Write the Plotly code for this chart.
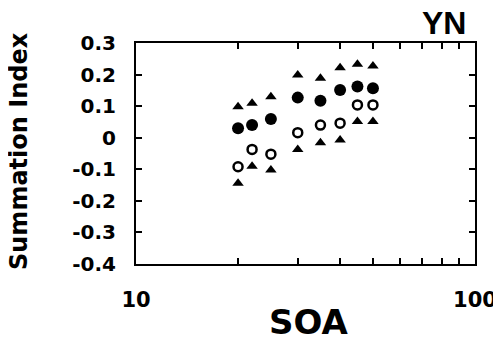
import plotly.graph_objects as go

soa = [20, 22, 25, 30, 35, 40, 45, 50]
filled = [0.030, 0.040, 0.059, 0.127, 0.117, 0.151, 0.162, 0.157]
opened = [-0.092, -0.037, -0.052, 0.016, 0.040, 0.046, 0.104, 0.104]
upper = [0.098, 0.109, 0.130, 0.199, 0.188, 0.222, 0.233, 0.227]
lower = [-0.144, -0.090, -0.102, -0.037, -0.016, -0.007, 0.051, 0.051]

x_tickvals = [10, 20, 30, 40, 50, 60, 70, 80, 90, 100]
x_ticktext = ["10", "", "", "", "", "", "", "", "", "100"]
y_tickvals = [0.3, 0.2, 0.1, 0, -0.1, -0.2, -0.3, -0.4]
y_ticktext = ["0.3", "0.2", "0.1", "0", "-0.1", "-0.2", "-0.3", "-0.4"]

# page body has an 8px default margin, so the figure is 8px smaller
fig = go.Figure()
fig.add_trace(go.Scatter(x=soa, y=upper, mode="markers",
                         marker=dict(symbol="triangle-up", size=10, color="black", line=dict(width=0))))
fig.add_trace(go.Scatter(x=soa, y=lower, mode="markers",
                         marker=dict(symbol="triangle-up", size=10, color="black", line=dict(width=0))))
fig.add_trace(go.Scatter(x=soa, y=filled, mode="markers",
                         marker=dict(symbol="circle", size=12, color="black", line=dict(width=0))))
fig.add_trace(go.Scatter(x=soa, y=opened, mode="markers",
                         marker=dict(symbol="circle-open", size=9, color="black", line=dict(width=2.5, color="black"))))

fig.update_layout(
    width=493, height=333,
    margin=dict(l=128, r=26, t=35, b=77),
    paper_bgcolor="white", plot_bgcolor="white",
    showlegend=False,
    font=dict(family="DejaVu Sans", color="black"),
    xaxis=dict(type="log", range=[1, 2], tickvals=x_tickvals,
               ticktext=["<b>%s</b>" % t if t else "" for t in x_ticktext],
               ticks="inside", ticklen=6, tickwidth=1.5, tickcolor="black",
               showline=True, linewidth=2, linecolor="black", mirror="ticks",
               showgrid=False, zeroline=False, automargin=False,
               tickfont=dict(family="DejaVu Sans", size=21, color="black"), ticklabelstandoff=16),
    yaxis=dict(range=[-0.4, 0.3], tickvals=y_tickvals,
               ticktext=["<b>%s</b>" % t for t in y_ticktext],
               ticks="inside", ticklen=6, tickwidth=1.5, tickcolor="black",
               showline=True, linewidth=2, linecolor="black", mirror="ticks",
               showgrid=False, zeroline=False, automargin=False,
               tickfont=dict(family="DejaVu Sans", size=20, color="black"), ticklabelstandoff=14),
    annotations=[
        dict(text="<b>YN</b>", x=(468 - 136) / 339, y=(264 - 23) / 221, xref="paper", yref="paper",
             xanchor="right", yanchor="middle", showarrow=False,
             font=dict(family="Liberation Sans", size=32, color="black")),
        dict(text="<b>SOA</b>", x=(308 - 136) / 339, y=(264 - 322) / 221, xref="paper", yref="paper",
             xanchor="center", yanchor="middle", showarrow=False,
             font=dict(family="DejaVu Sans", size=34, color="black")),
        dict(text="<b>Summation Index</b>", x=(19 - 136) / 339, y=(264 - 151) / 221, xref="paper", yref="paper",
             xanchor="center", yanchor="middle", showarrow=False, textangle=-90,
             font=dict(family="DejaVu Sans", size=24, color="black")),
    ],
)
fig.write_html("out.html")
